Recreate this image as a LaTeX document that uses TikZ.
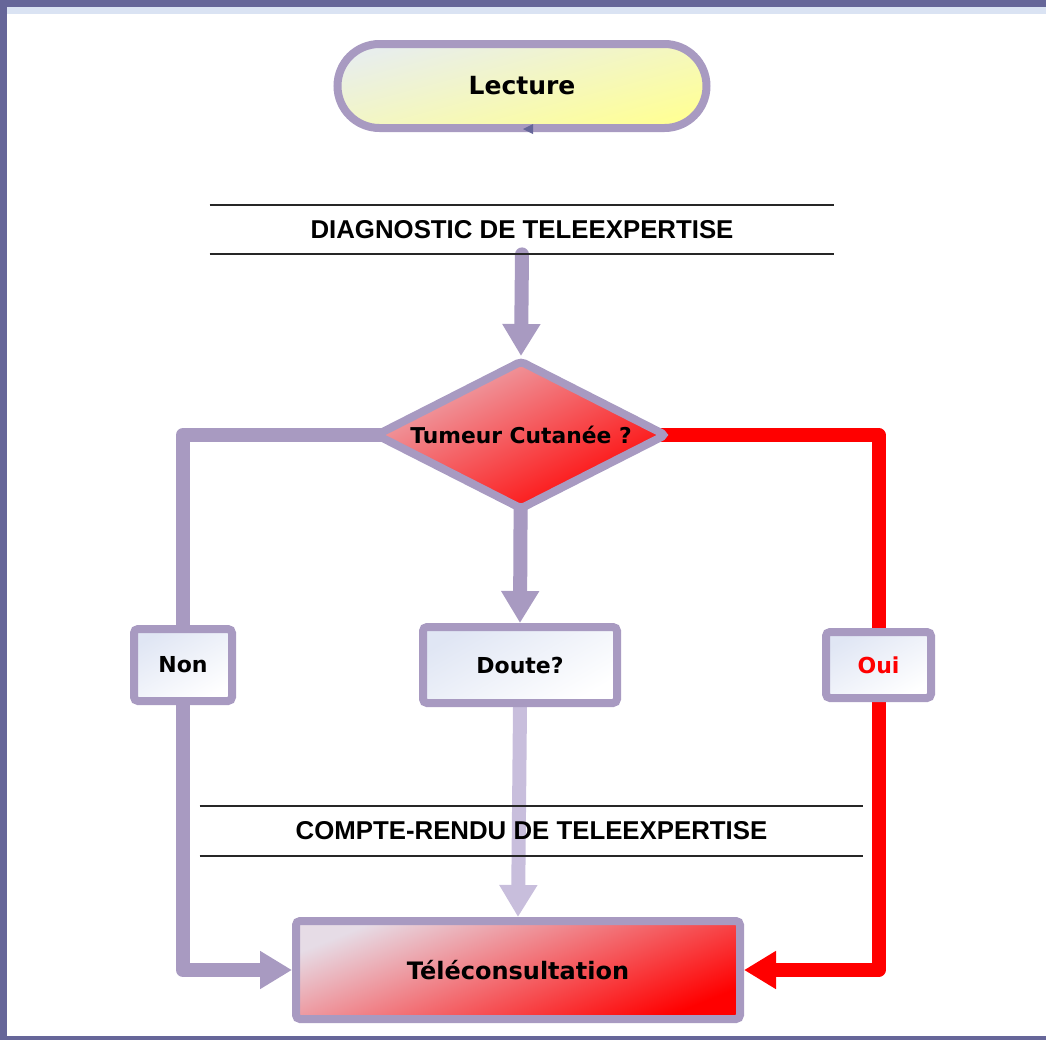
\documentclass[tikz,border=0pt]{standalone}
\usepackage{fontspec}
\setmainfont{Liberation Sans}
\newfontfamily\lblfont{DejaVu Sans}
\usetikzlibrary{arrows.meta,positioning,shapes.geometric,backgrounds}
\definecolor{tlav}{RGB}{168,154,193}
\definecolor{tlavlt}{RGB}{200,190,220}
\definecolor{tframe}{RGB}{102,102,153}
\definecolor{tband}{RGB}{218,227,243}
\definecolor{tred}{RGB}{255,0,0}
\definecolor{tpink}{RGB}{236,175,182}
\definecolor{tmidred}{RGB}{248,72,80}
\definecolor{tdeepred}{RGB}{250,55,62}
\definecolor{tmist}{RGB}{224,230,244}
\definecolor{tblush}{RGB}{230,220,230}
\definecolor{tyel}{RGB}{255,255,150}
\definecolor{tyelgr}{RGB}{232,238,236}
\definecolor{tyelmid}{RGB}{250,252,175}
\tikzset{
  tblk/.style={rectangle, rounded corners=2pt, draw=tlav, line width=4pt, align=center,
               font=\lblfont\bfseries\fontsize{11pt}{13pt}\selectfont, inner sep=0pt},
  choix/.style={tblk, top color=tmist, bottom color=white, shading angle=30},
  hdr/.style={inner sep=0pt, font=\bfseries\fontsize{12.9pt}{15pt}\selectfont},
  hline/.style={line width=1pt, black!85},
  tline/.style={line width=7pt, tlav, line cap=round, line join=round},
  tarr/.style={tline, -{Triangle[length=16pt,width=18pt]}},
}
\begin{document}
\begin{tikzpicture}[x=0.5pt,y=-0.5pt]
  \useasboundingbox (0,0) rectangle (1046,1040);
  % cadre
  \fill[tband] (0,7) rectangle (1046,14);
  \fill[tframe] (0,0) rectangle (1046,7);
  \fill[tframe] (0,0) rectangle (7,1040);
  \fill[tframe] (0,1036) rectangle (1046,1040);

  \node[tblk, rounded corners=21pt, minimum width=184.5pt, minimum height=42pt,
        top color=tyelgr, middle color=tyelmid, bottom color=tyel, shading angle=15,
        font=\lblfont\bfseries\fontsize{12.5pt}{15pt}\selectfont] (lecture) at (522,86) {Lecture};
  \fill[tframe] (523,129) -- (533,124) -- (533,134) -- cycle;

  \node[hdr, minimum width=312pt, minimum height=24.5pt] (diag) at (522,229.5) {DIAGNOSTIC DE TELEEXPERTISE};
  \draw[hline] (diag.north west) -- (diag.north east) (diag.south west) -- (diag.south east);

  \node[tblk, diamond, aspect=2, minimum width=146pt, minimum height=75pt,
        top color=tpink, middle color=tmidred, bottom color=tred, shading angle=27,
        font=\lblfont\bfseries\fontsize{10.9pt}{13pt}\selectfont] (tumeur) at (521,435) {Tumeur Cutanée ?};

  \node[choix, minimum width=97pt, minimum height=38pt] (doute) at (520,665) {Doute?};
  \node[choix, minimum width=49pt, minimum height=36pt, left=91.5pt of doute] (non) {Non};
  \node[choix, minimum width=52.5pt, minimum height=33pt, right=100.5pt of doute, text=tred] (oui) {Oui};

  \node[hdr, minimum width=331.5pt, minimum height=25pt] (compte) at (531.5,831) {COMPTE-RENDU DE TELEEXPERTISE};
  \draw[hline] (compte.north west) -- (compte.north east) (compte.south west) -- (compte.south east);

  \node[tblk, minimum width=222pt, minimum height=49pt,
        top color=tblush, middle color=tdeepred, bottom color=tred, shading angle=22,
        font=\lblfont\bfseries\fontsize{12pt}{14pt}\selectfont] (telecons) at (518,970) {Téléconsultation};

  \begin{scope}[on background layer]
    \draw[tarr] (diag.south) -- (tumeur.north);
    \draw[tarr] (tumeur.center) -- (doute.north);
    \draw[tline] (tumeur.center) -| (non.center);
    \draw[tarr] (non.center) |- (telecons.west);
    \draw[tline, tred] (tumeur.center) -| (oui.center);
    \draw[tarr, tred] (oui.center) |- (telecons.east);
    \draw[tarr, tlavlt] (doute.south) -- (telecons.north);
  \end{scope}
\end{tikzpicture}
\end{document}
